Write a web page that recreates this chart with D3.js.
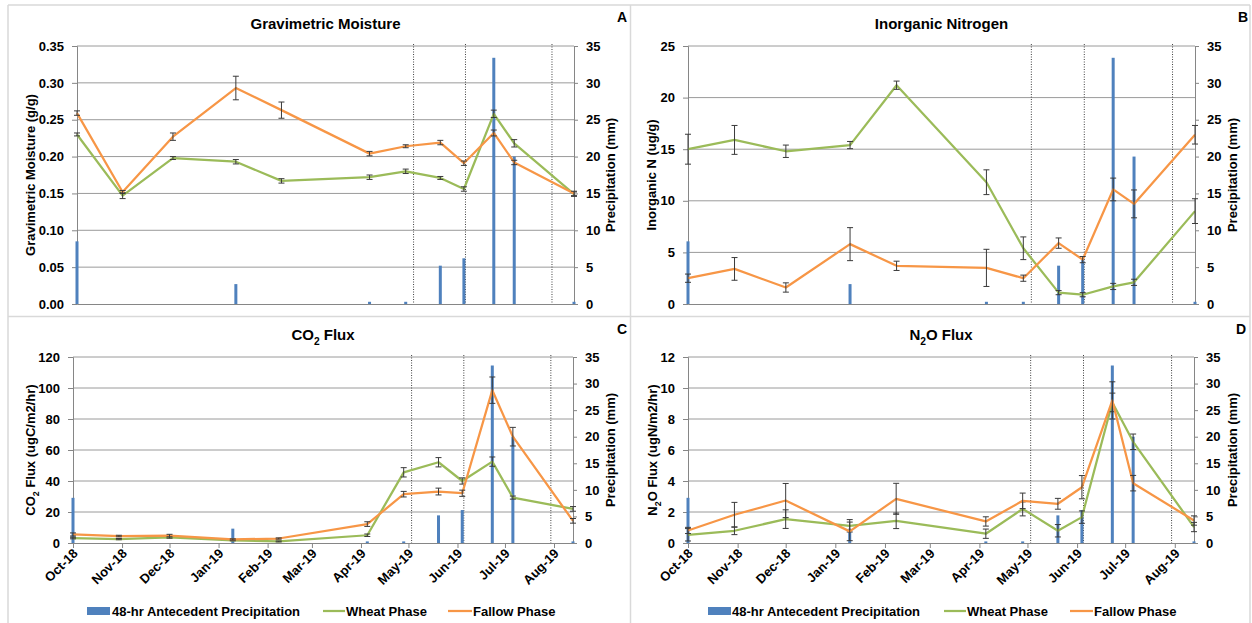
<!DOCTYPE html>
<html>
<head>
<meta charset="utf-8">
<script src="https://cdn.jsdelivr.net/npm/d3@7"></script>
<style>
  body { margin: 0; background: #fff; }
  svg { display: block; font-family: "Liberation Sans", Arial, sans-serif; }
</style>
</head>
<body>
<div id="chart"></div>
<script>
// sampling dates and 48-hr antecedent precipitation (mm)
const sampleDates = ["2018-10-01", "2018-10-30", "2018-12-01", "2019-01-10", "2019-02-08", "2019-04-05",
                     "2019-04-28", "2019-05-20", "2019-06-04", "2019-06-23", "2019-07-06", "2019-08-13"];
const precipitation = [8.5, 0, 0, 2.7, 0, 0.3, 0.3, 5.2, 6.2, 33.4, 20.0, 0.3];
const phaseDates = ["2019-05-03", "2019-06-05", "2019-07-30"];

// gravimetric moisture (g/g)
const moistureWheat = [0.230, 0.147, 0.198, 0.193, 0.167, 0.172, 0.180, 0.171, 0.156, 0.258, 0.218, 0.149];
const moistureWheatErr = [0.002, 0.004, 0.002, 0.003, 0.003, 0.003, 0.003, 0.002, 0.003, 0.005, 0.005, 0.003];
const moistureFallow = [0.259, 0.152, 0.227, 0.293, 0.263, 0.204, 0.214, 0.219, 0.191, 0.232, 0.192, 0.150];
const moistureFallowErr = [0.003, 0.002, 0.005, 0.016, 0.011, 0.003, 0.002, 0.003, 0.003, 0.004, 0.003, 0.003];

// inorganic N (ug/g)
const nitrogenWheat = [15.0, 15.9, 14.8, 15.4, 21.2, 11.8, 5.4, 1.1, 0.9, 1.7, 2.1, 9.0];
const nitrogenWheatErr = [1.45, 1.4, 0.6, 0.35, 0.4, 1.2, 1.1, 0.2, 0.2, 0.3, 0.3, 1.2];
const nitrogenFallow = [2.5, 3.4, 1.6, 5.8, 3.7, 3.5, 2.5, 5.9, 4.3, 11.1, 9.7, 16.4];
const nitrogenFallowErr = [0.4, 1.1, 0.45, 1.6, 0.45, 1.8, 0.3, 0.5, 0.3, 1.1, 1.35, 0.9];

// CO2 flux (ugC/m2/hr)
const co2Wheat = [3.2, 2.5, 3.6, 1.7, 1.0, 5.0, 45.6, 52.1, 40.0, 52.5, 29.3, 22.0];
const co2WheatErr = [0.5, 0.4, 0.5, 0.3, 0.3, 0.8, 3.0, 3.0, 2.0, 3.0, 1.0, 1.5];
const co2Fallow = [5.5, 4.5, 4.8, 2.3, 2.9, 12.2, 31.5, 33.2, 32.1, 98.6, 68.6, 14.3];
const co2FallowErr = [1.0, 0.5, 0.8, 0.4, 0.4, 1.5, 1.8, 2.2, 2.0, 8.5, 6.0, 1.5];

// N2O flux (ugN/m2/hr)
const n2oWheat = [0.53, 0.79, 1.54, 1.11, 1.43, 0.6, 2.2, 0.79, 1.67, 9.07, 6.53, 1.03];
const n2oWheatErr = [0.4, 0.25, 0.6, 0.4, 0.5, 0.3, 0.45, 0.4, 0.4, 0.6, 0.5, 0.3];
const n2oFallow = [0.81, 1.82, 2.74, 0.75, 2.85, 1.39, 2.72, 2.53, 3.6, 9.2, 3.86, 1.45];
const n2oFallowErr = [0.2, 0.8, 1.1, 0.6, 1.0, 0.3, 0.5, 0.35, 0.75, 1.2, 0.5, 0.3];

const precipTicks = [0, 5, 10, 15, 20, 25, 30, 35];

const blue = "#4F81BD", green = "#9BBB59", orange = "#F79646";
const width = 1252, height = 623;
const parseDate = d3.timeParse("%Y-%m-%d");
const dates = sampleDates.map(parseDate);

const svg = d3.select("#chart")
    .append("svg")
    .attr("width", width)
    .attr("height", height);

svg.append("rect").attr("width", width).attr("height", height).attr("fill", "#fff");

// panel frame lines
const frame = svg.append("g").attr("stroke", "#d9d9d9").attr("stroke-width", 1.5);
frame.append("line").attr("x1", 8).attr("x2", 1250).attr("y1", 5).attr("y2", 5);
frame.append("line").attr("x1", 8).attr("x2", 1250).attr("y1", 316.5).attr("y2", 316.5);
frame.append("line").attr("x1", 8).attr("x2", 8).attr("y1", 5).attr("y2", 623);
frame.append("line").attr("x1", 630.5).attr("x2", 630.5).attr("y1", 5).attr("y2", 623);
frame.append("line").attr("x1", 1250).attr("x2", 1250).attr("y1", 5).attr("y2", 623);

// text with "_" parts as subscripts
function richText(sel, parts, size) {
    let down = false;
    parts.forEach(p => {
        const isSub = p.startsWith("_");
        const t = sel.append("tspan").text(isSub ? p.slice(1) : p);
        if (isSub) {
            t.attr("font-size", size * 0.68).attr("dy", size * 0.3);
            down = true;
        } else if (down) {
            t.attr("dy", -size * 0.3);
            down = false;
        }
    });
}

const panels = [
    { letter: "A", title: ["Gravimetric Moisture"], yTitle: ["Gravimetric Moisture (g/g)"],
      wheat: moistureWheat, wheatErr: moistureWheatErr, fallow: moistureFallow, fallowErr: moistureFallowErr,
      yTicks: d3.range(0, 0.351, 0.05), fmt: d3.format(".2f"),
      left: 77, right: 574, top: 46, bottom: 304, titleY: 29, letterX: 622, letterY: 22,
      yTitleX: 31, y2TitleX: 610, dates: false },
    { letter: "B", title: ["Inorganic Nitrogen"], yTitle: ["Inorganic N (ug/g)"],
      wheat: nitrogenWheat, wheatErr: nitrogenWheatErr, fallow: nitrogenFallow, fallowErr: nitrogenFallowErr,
      yTicks: [0, 5, 10, 15, 20, 25], fmt: d3.format("d"),
      left: 688, right: 1195, top: 46, bottom: 304, titleY: 29, letterX: 1243, letterY: 22,
      yTitleX: 652, y2TitleX: 1232, dates: false },
    { letter: "C", title: ["CO", "_2", " Flux"], yTitle: ["CO", "_2", " Flux (ugC/m2/hr)"],
      wheat: co2Wheat, wheatErr: co2WheatErr, fallow: co2Fallow, fallowErr: co2FallowErr,
      yTicks: [0, 20, 40, 60, 80, 100, 120], fmt: d3.format("d"),
      left: 73, right: 573, top: 357, bottom: 543, titleY: 340, letterX: 622, letterY: 334,
      yTitleX: 31, y2TitleX: 610, dates: true,
      legend: [87, 112, 323, 346, 448, 473] },
    { letter: "D", title: ["N", "_2", "O Flux"], yTitle: ["N", "_2", "O Flux (ugN/m2/hr)"],
      wheat: n2oWheat, wheatErr: n2oWheatErr, fallow: n2oFallow, fallowErr: n2oFallowErr,
      yTicks: [0, 2, 4, 6, 8, 10, 12], fmt: d3.format("d"),
      left: 688, right: 1194, top: 357, bottom: 543, titleY: 340, letterX: 1241, letterY: 334,
      yTitleX: 653, y2TitleX: 1232, dates: true,
      legend: [708, 732, 944, 967, 1070, 1094] }
];

panels.forEach(p => {
    const g = svg.append("g");
    const x = d3.scaleTime()
        .domain([dates[0], dates[dates.length - 1]])
        .range([p.left, p.right]);
    const y = d3.scaleLinear()
        .domain([0, d3.max(p.yTicks)])
        .range([p.bottom, p.top]);
    const yP = d3.scaleLinear()
        .domain([0, d3.max(precipTicks)])
        .range([p.bottom, p.top]);

    // gridlines
    g.selectAll("line.grid")
        .data(p.yTicks.slice(1))
        .enter()
        .append("line")
        .attr("x1", p.left).attr("x2", p.right)
        .attr("y1", d => y(d)).attr("y2", d => y(d))
        .attr("stroke", "#9a9a9a").attr("stroke-width", 1);

    // left axis
    const yAxis = g.append("g")
        .attr("transform", `translate(${p.left},0)`)
        .call(d3.axisLeft(y).tickValues(p.yTicks).tickFormat(p.fmt).tickSize(5).tickPadding(8));
    // right axis
    const yAxis2 = g.append("g")
        .attr("transform", `translate(${p.right},0)`)
        .call(d3.axisRight(yP).tickValues(precipTicks).tickFormat(d3.format("d")).tickSize(4).tickPadding(8));
    // bottom axis
    const xAxis = g.append("g")
        .attr("transform", `translate(0,${p.bottom})`)
        .call(d3.axisBottom(x)
            .tickValues(d3.timeMonth.range(dates[0], dates[dates.length - 1]))
            .tickFormat(d3.timeFormat("%b-%y"))
            .tickSize(p.dates ? 5 : 0)
            .tickSizeOuter(0));

    [yAxis, yAxis2, xAxis].forEach(a => {
        a.select(".domain").attr("stroke", "#868686");
        a.selectAll(".tick line").attr("stroke", "#868686");
        a.selectAll(".tick text")
            .attr("font-size", 13).attr("font-weight", "bold").attr("fill", "#000")
            .attr("font-family", "Liberation Sans, Arial, sans-serif");
    });
    if (p.dates) {
        xAxis.selectAll(".tick text")
            .attr("text-anchor", "end")
            .attr("dy", "0.35em")
            .attr("transform", "translate(2,8) rotate(-45)")
            .attr("y", 0).attr("x", 0);
    } else {
        xAxis.selectAll(".tick text").remove();
    }

    // phase boundaries
    g.selectAll("line.phase")
        .data(phaseDates.map(parseDate))
        .enter()
        .append("line")
        .attr("x1", d => x(d)).attr("x2", d => x(d))
        .attr("y1", p.top - 2).attr("y2", p.bottom)
        .attr("stroke", "#404040").attr("stroke-width", 1)
        .attr("stroke-dasharray", "1,1.5");

    // precipitation bars
    g.selectAll("rect.precip")
        .data(precipitation.map((v, i) => ({ date: dates[i], v })).filter(d => d.v > 0))
        .enter()
        .append("rect")
        .attr("x", d => x(d.date) - 1.5)
        .attr("y", d => yP(d.v))
        .attr("width", 3)
        .attr("height", d => p.bottom - yP(d.v))
        .attr("fill", blue);

    const line = d3.line()
        .x((d, i) => x(dates[i]))
        .y(d => y(d));

    [[p.wheat, p.wheatErr, green], [p.fallow, p.fallowErr, orange]].forEach(([vals, errs, color]) => {
        g.append("path")
            .datum(vals)
            .attr("fill", "none")
            .attr("stroke", color)
            .attr("stroke-width", 2.25)
            .attr("stroke-linejoin", "round")
            .attr("d", line);

        const eb = g.append("g").attr("stroke", "#3a3a3a").attr("stroke-width", 1);
        vals.forEach((v, i) => {
            const cx = x(dates[i]);
            const lo = y(Math.max(0, v - errs[i])), hi = y(v + errs[i]);
            eb.append("line").attr("x1", cx).attr("x2", cx).attr("y1", lo).attr("y2", hi);
            eb.append("line").attr("x1", cx - 3).attr("x2", cx + 3).attr("y1", lo).attr("y2", lo);
            eb.append("line").attr("x1", cx - 3).attr("x2", cx + 3).attr("y1", hi).attr("y2", hi);
        });
    });

    // title
    const title = g.append("text")
        .attr("x", (p.left + p.right) / 2)
        .attr("y", p.titleY)
        .attr("text-anchor", "middle")
        .attr("font-size", 15)
        .attr("font-weight", "bold");
    richText(title, p.title, 15);

    // panel letter
    g.append("text")
        .attr("x", p.letterX)
        .attr("y", p.letterY)
        .attr("text-anchor", "middle")
        .attr("font-size", 14)
        .attr("font-weight", "bold")
        .text(p.letter);

    // axis titles
    const midY = (p.top + p.bottom) / 2;
    const yt = g.append("text")
        .attr("transform", `translate(${p.yTitleX + 4},${midY}) rotate(-90)`)
        .attr("text-anchor", "middle")
        .attr("font-size", 13)
        .attr("font-weight", "bold");
    richText(yt, p.yTitle, 13);

    g.append("text")
        .attr("transform", `translate(${p.y2TitleX + 5},${midY}) rotate(-90)`)
        .attr("text-anchor", "middle")
        .attr("font-size", 13)
        .attr("font-weight", "bold")
        .text("Precipitation (mm)");

    // legend
    if (p.legend) {
        const ly = 611;
        const lg = g.append("g").attr("font-size", 13).attr("font-weight", "bold");
        lg.append("rect").attr("x", p.legend[0]).attr("y", ly - 4).attr("width", 23).attr("height", 8).attr("fill", blue);
        lg.append("text").attr("x", p.legend[1]).attr("y", ly + 4.5).text("48-hr Antecedent Precipitation");
        lg.append("line").attr("x1", p.legend[2]).attr("x2", p.legend[3] - 1).attr("y1", ly).attr("y2", ly)
            .attr("stroke", green).attr("stroke-width", 2.25);
        lg.append("text").attr("x", p.legend[3]).attr("y", ly + 4.5).text("Wheat Phase");
        lg.append("line").attr("x1", p.legend[4]).attr("x2", p.legend[5] - 1).attr("y1", ly).attr("y2", ly)
            .attr("stroke", orange).attr("stroke-width", 2.25);
        lg.append("text").attr("x", p.legend[5]).attr("y", ly + 4.5).text("Fallow Phase");
    }
});
</script>
</body>
</html>
